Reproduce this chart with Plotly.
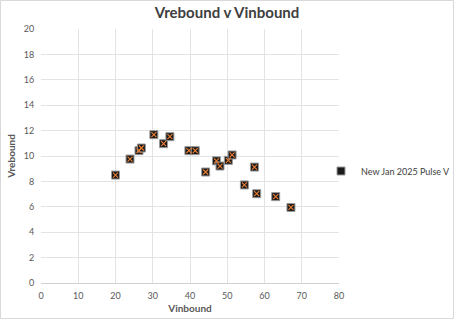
import plotly.graph_objects as go

vinbound = [20.0, 23.9, 26.3, 26.95, 30.3, 32.9, 34.6, 39.7, 41.4, 44.2, 47.1, 48.05, 50.3, 51.3, 54.6, 57.3, 57.9, 63.0, 67.1]
vrebound = [8.5, 9.76, 10.42, 10.63, 11.68, 10.97, 11.52, 10.42, 10.42, 8.74, 9.62, 9.21, 9.66, 10.08, 7.72, 9.13, 7.03, 6.8, 5.95]
series_name = "New Jan 2025 Pulse V"
x_ticks = [0, 10, 20, 30, 40, 50, 60, 70, 80]
y_ticks = [0, 2, 4, 6, 8, 10, 12, 14, 16, 18, 20]

FONT = "Lato"
fig = go.Figure()
fig.add_trace(go.Scatter(
    x=vinbound, y=vrebound, mode="markers", name=series_name,
    marker=dict(symbol="square", size=8, color="#1a1a1a", line=dict(color="#9a9a9a", width=1)),
))
fig.add_trace(go.Scatter(
    x=vinbound, y=vrebound, mode="markers", showlegend=False, hoverinfo="skip",
    marker=dict(symbol="x-thin", size=5, color="#ED7D31", line=dict(color="#ED7D31", width=1.1)),
))

W, H = 454, 319
L, R, T, B = 41, 115, 29, 36
pw, ph = W - L - R, H - T - B

fig.update_layout(
    width=W, height=H,
    margin=dict(l=L, r=R, t=T, b=B, autoexpand=False),
    paper_bgcolor="white", plot_bgcolor="white",
    font=dict(family=FONT, color="#595959", size=9),
    title=dict(text="<b>Vrebound v Vinbound</b>", x=0.5, xref="container", xanchor="center",
               y=1 - 13 / H, yref="container", yanchor="middle",
               font=dict(size=15, color="#404040", family=FONT)),
    xaxis=dict(range=[0, 80], tickvals=x_ticks, showgrid=True, gridcolor="#e3e3e3", gridwidth=1,
               zeroline=False, showline=True, linecolor="#d0d0d0", ticks="outside", ticklen=4,
               tickcolor="rgba(0,0,0,0)",
               tickfont=dict(size=9, color="#595959"),
               title=dict(text="<b>Vinbound</b>", font=dict(size=10, color="#595959"), standoff=5)),
    yaxis=dict(range=[0, 20], tickvals=y_ticks, showgrid=True, gridcolor="#e3e3e3", gridwidth=1,
               zeroline=False, showline=False, ticks="outside", ticklen=4, tickcolor="rgba(0,0,0,0)",
               tickfont=dict(size=9, color="#595959"),
               title=dict(text="<b>Vrebound</b>", font=dict(size=10, color="#595959"), standoff=6)),
    legend=dict(x=321 / W, y=1 - 171 / H, xref="container", yref="container",
                xanchor="left", yanchor="middle",
                font=dict(size=9, color="#404040"), bgcolor="rgba(0,0,0,0)",
                itemwidth=30, tracegroupgap=0),
    shapes=[dict(type="rect", xref="paper", yref="paper",
                 x0=(0.5 - L) / pw, x1=(W - 0.5 - L) / pw,
                 y0=-(B - 0.5) / ph, y1=(H - 0.5 - B) / ph,
                 line=dict(color="#d9d9d9", width=1), fillcolor="rgba(0,0,0,0)", layer="below")],
    showlegend=True,
)
fig.write_html("out.html")
